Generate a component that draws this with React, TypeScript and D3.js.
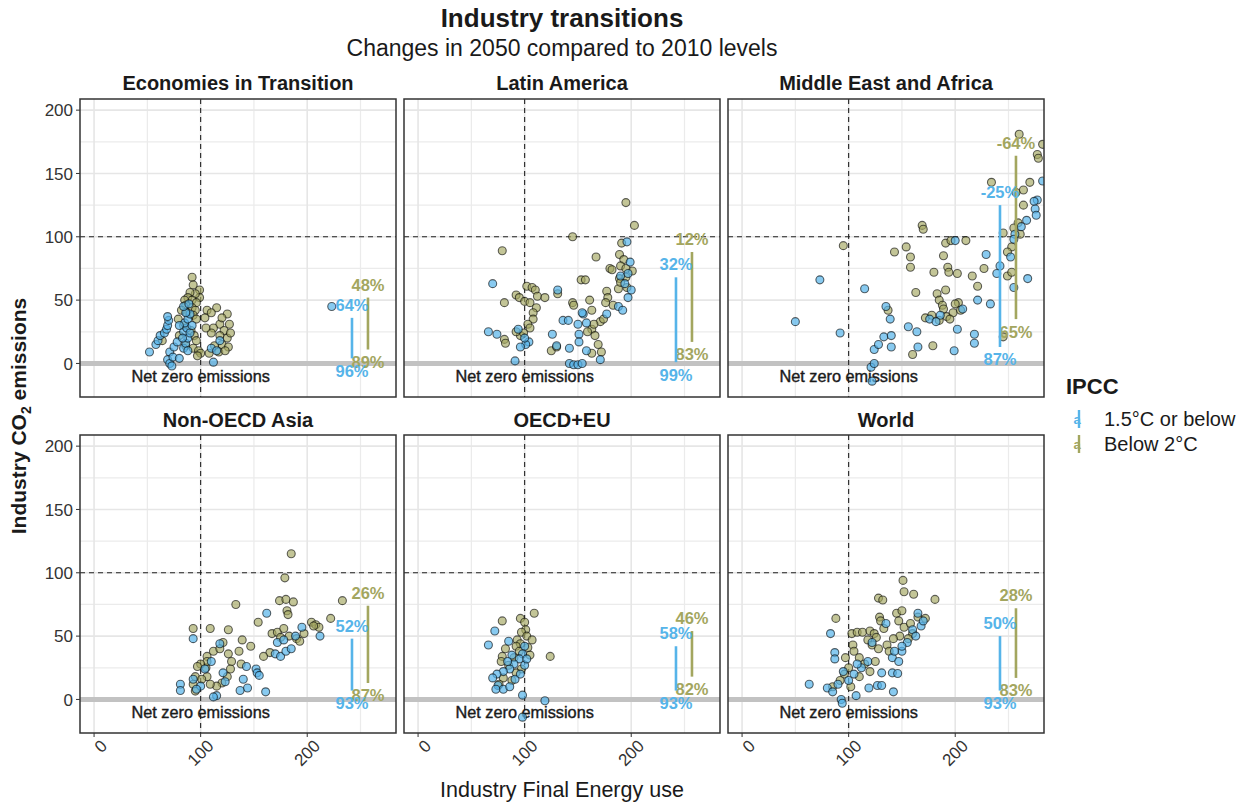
import React from 'react';
import * as d3 from 'd3';

// facet order
const regions = ['Economies in Transition', 'Latin America', 'Middle East and Africa', 'Non-OECD Asia', 'OECD+EU', 'World'];
const ipccLevels = ['1.5°C or below', 'Below 2°C'];

// emission reduction ranges (% vs 2010), per region
const worst15 = [64, 32, -25, 52, 58, 50];
const best15 = [96, 99, 87, 93, 93, 93];
const worst2 = [48, 12, -64, 26, 46, 28];
const best2 = [89, 83, 65, 87, 82, 83];

const xTicks = [0, 100, 200];
const xMinor = [50, 150, 250];
const yTicks = [0, 50, 100, 150, 200];
const yMinor = [25, 75, 125, 175];

// scenario points: [final energy, CO2] (2010 = 100)
const eitBlue = [[52, 9], [58, 15], [60, 18], [62, 22], [66, 24], [68, 27], [69, 30], [70, 34], [69, 37], [71, 9], [69, 3], [71, 0], [73, -2], [74, 5], [80, 4], [75, 13], [78, 17], [84, 12], [86, 16], [88, 20], [84, 25], [87, 28], [90, 24], [85, 32], [88, 35], [90, 39], [86, 40], [84, 45], [89, 47], [83, 20], [80, 30], [92, 30], [112, 1], [110, 12], [115, 10], [118, 18], [223, 45], [88, 10]];
const eitOlive = [[92, 68], [93, 62], [99, 58], [99, 52], [95, 55], [90, 56], [88, 52], [85, 50], [92, 50], [96, 48], [86, 46], [92, 44], [95, 42], [82, 42], [87, 40], [93, 38], [96, 35], [79, 35], [84, 30], [91, 26], [94, 22], [96, 18], [80, 22], [86, 14], [93, 12], [98, 10], [100, 8], [97, 6], [64, 18], [106, 42], [115, 44], [125, 39], [104, 36], [118, 31], [127, 31], [110, 40], [120, 36], [112, 28], [122, 26], [118, 22], [110, 24], [125, 20], [120, 15], [113, 14], [126, 13], [117, 9], [108, 8], [123, 10], [128, 24], [105, 28]];

const lamBlue = [[196, 96], [199, 80], [190, 69], [197, 71], [194, 63], [200, 58], [197, 52], [188, 45], [192, 42], [155, 39], [154, 40], [131, 58], [158, 32], [150, 31], [151, 23], [151, 17], [158, 10], [171, 3], [142, 0], [146, -1], [150, -1], [154, 0], [177, 39], [136, 34], [141, 34], [126, 23], [142, 12], [130, 14], [91, 2], [66, 25], [74, 23], [70, 63], [94, 27], [104, 17], [101, 15], [100, 20], [96, 13]];
const lamOlive = [[195, 127], [203, 109], [145, 100], [79, 89], [191, 95], [167, 84], [189, 86], [193, 82], [190, 77], [201, 73], [195, 75], [180, 75], [182, 74], [153, 66], [157, 66], [189, 67], [195, 68], [196, 60], [188, 59], [190, 64], [177, 57], [178, 52], [176, 48], [161, 50], [163, 42], [183, 46], [131, 55], [145, 48], [146, 46], [102, 61], [107, 60], [110, 58], [92, 54], [95, 52], [100, 49], [105, 48], [112, 53], [119, 52], [111, 44], [108, 40], [108, 35], [103, 31], [105, 28], [81, 48], [81, 19], [82, 16], [96, 22], [99, 24], [92, 25], [125, 10], [130, 13], [163, 27], [159, 25], [163, 8], [169, 15], [172, 9], [171, 33], [174, 35], [166, 22], [165, 31]];

const meaBlue = [[50, 33], [73, 66], [92, 24], [115, 59], [135, 45], [139, 35], [124, 11], [128, 15], [133, 21], [140, 13], [140, 22], [121, -3], [124, 0], [122, -14], [156, 29], [164, 25], [165, 13], [199, 10], [202, 27], [218, 23], [218, 16], [207, 43], [233, 47], [221, 50], [229, 86], [200, 97], [242, 77], [239, 71], [252, 84], [255, 60], [268, 67], [262, 108], [267, 113], [277, 129], [274, 128], [275, 122], [276, 117], [282, 144], [256, 102], [255, 98], [176, 35], [186, 38], [182, 33]];
const meaOlive = [[95, 93], [137, 42], [143, 88], [154, 92], [158, 84], [158, 76], [169, 109], [170, 106], [163, 56], [160, 7], [179, 14], [180, 72], [189, 85], [191, 95], [196, 97], [210, 97], [193, 76], [194, 72], [202, 71], [216, 69], [227, 75], [221, 61], [183, 55], [191, 58], [185, 50], [188, 46], [189, 43], [172, 36], [178, 38], [185, 34], [192, 37], [198, 40], [195, 35], [205, 42], [203, 48], [260, 181], [282, 173], [277, 165], [278, 162], [234, 143], [270, 143], [264, 137], [257, 135], [264, 125], [259, 111], [255, 107], [261, 102], [245, 103], [253, 92], [249, 88], [249, 69], [253, 72], [245, 21], [200, 47]];

const sasBlue = [[93, 48], [118, 44], [121, 21], [104, 24], [100, 10.5], [96, 8], [81, 12], [81, 7], [115, 3], [112, 2], [162, 68], [195, 57], [212, 50], [152, 24], [153, 21], [155, 19], [143, 26], [140, 16], [144, 9], [137, 7], [161, 6], [170, 36], [175, 34], [180, 38], [185, 40], [172, 45], [178, 47], [189, 50], [110, 30], [93, 16], [123, 14]];
const sasOlive = [[185, 115], [179, 96], [174, 78], [180, 79], [187, 77], [181, 70], [182, 67], [233, 78], [222, 64], [204, 61], [208, 59], [211, 57], [206, 58], [154, 61], [133, 75], [167, 52], [172, 53], [178, 56], [175, 49], [183, 50], [190, 48], [197, 52], [193, 46], [147, 42], [139, 47], [126, 55], [109, 56], [93, 56], [121, 45], [136, 38], [138, 28], [106, 34], [112, 38], [118, 40], [126, 36], [129, 30], [128, 24], [125, 18], [120, 13], [115, 10.5], [109, 12], [106, 18], [105, 25], [106, 30], [100, 28], [97, 26], [95, 18], [101, 16], [93, 12], [95, 6.6], [165, 37], [159, 34]];

const oecdBlue = [[72, 54], [85, 46], [66, 43], [100, 42], [98, 36], [95, 32], [90, 28], [86, 24], [80, 22], [74, 20], [70, 17], [75, 11], [80, 8], [86, 10], [91, 16], [96, 20], [100, 27], [102, 32], [98, 3.4], [119, -1], [98, -14], [73, 8], [88, 35], [84, 30]];
const oecdOlive = [[109, 68], [79, 62], [96, 64], [100, 61], [101, 55], [97, 53], [102, 50], [107, 47], [93, 47], [96, 44], [92, 42], [124, 34], [82, 40], [79, 34], [78, 30], [105, 35], [95, 38], [90, 33], [85, 27], [80, 17], [76, 12], [97, 24], [92, 21], [88, 15], [103, 41]];

const wldBlue = [[83, 52], [135, 60], [87, 37], [87, 32], [63, 12], [80, 9], [85, 6], [93, 0], [94, -3], [107, 3], [119, 9], [127, 11], [131, 11], [141, 21], [146, 20.5], [131, 21], [142, 6], [141, 33], [147, 30], [150, 38], [143, 38], [160, 55], [163, 50], [168, 58], [155, 45], [150, 42], [122, 45], [105, 20], [100, 15], [112, 25], [95, 22], [90, 12], [108, 28], [118, 30], [170, 62], [165, 68]];
const wldOlive = [[151, 94], [152, 85], [161, 83], [181, 79], [128, 80], [132, 78.5], [88, 64], [129, 65], [130, 62], [133, 56], [103, 52], [108, 53], [113, 53], [120, 54], [124, 52], [126, 49], [118, 47], [122, 43], [128, 40], [136, 43], [145, 68], [150, 70], [147, 62], [152, 57], [158, 60], [165, 65], [172, 64], [160, 52], [156, 48], [148, 50], [142, 48], [138, 38], [97, 33], [104, 43], [105, 38], [110, 33], [115, 28], [100, 25], [96, 20], [92, 15], [110, 18], [120, 22], [125, 30], [85, 10], [102, 10]];

const blueSets = [eitBlue, lamBlue, meaBlue, sasBlue, oecdBlue, wldBlue];
const oliveSets = [eitOlive, lamOlive, meaOlive, sasOlive, oecdOlive, wldOlive];

const BLUE = '#56B4E9';
const OLIVE = '#A3A65F';
const FONT = '"Liberation Sans", Arial, Helvetica, sans-serif';

const App = () => {
  const pw = 316;
  const ph = 298;
  const colX = [80, 404, 728];
  const rowY = [99, 435];

  const x = d3.scaleLinear().domain([-13.2, 283.3]).range([0, pw]);
  const y = d3.scaleLinear().domain([-26.5, 208.8]).range([ph, 0]);

  const xBlue = 242;
  const xOlive = 257;

  const panel = (i: number) => {
    const c = i % 3;
    const r = Math.floor(i / 3);
    const ranges = [
      { key: 'olive', xv: xOlive, hi: 100 - worst2[i], lo: 100 - best2[i], color: OLIVE, tHi: worst2[i], tLo: best2[i] },
      { key: 'blue', xv: xBlue, hi: 100 - worst15[i], lo: 100 - best15[i], color: BLUE, tHi: worst15[i], tLo: best15[i] },
    ];
    return (
      <g key={i} transform={`translate(${colX[c]},${rowY[r]})`}>
        <text x={pw / 2} y={r === 0 ? -9 : -8} textAnchor="middle" fontFamily={FONT} fontWeight="bold" fontSize={20} fill="#1a1a1a">{regions[i]}</text>
        <clipPath id={`clip${i}`}><rect x={0} y={0} width={pw} height={ph} /></clipPath>
        <g clipPath={`url(#clip${i})`}>
          <rect x={0} y={0} width={pw} height={ph} fill="#fff" />
          {xMinor.map(v => <line key={'xm' + v} x1={x(v)} x2={x(v)} y1={0} y2={ph} stroke="#ebebeb" strokeWidth={1.2} />)}
          {yMinor.map(v => <line key={'ym' + v} x1={0} x2={pw} y1={y(v)} y2={y(v)} stroke="#ebebeb" strokeWidth={1.2} />)}
          {xTicks.map(v => <line key={'xg' + v} x1={x(v)} x2={x(v)} y1={0} y2={ph} stroke="#e6e6e6" strokeWidth={1.6} />)}
          {yTicks.map(v => <line key={'yg' + v} x1={0} x2={pw} y1={y(v)} y2={y(v)} stroke="#e6e6e6" strokeWidth={1.6} />)}
          <line x1={0} x2={pw} y1={y(0)} y2={y(0)} stroke="#c2c2c2" strokeWidth={5} />
          <line x1={x(100)} x2={x(100)} y1={0} y2={ph} stroke="#222" strokeWidth={1.1} strokeDasharray="5,4" />
          <line x1={0} x2={pw} y1={y(100)} y2={y(100)} stroke="#222" strokeWidth={1.1} strokeDasharray="5,4" />
          <text x={x(100)} y={y(-10)} dy="0.35em" textAnchor="middle" fontFamily={FONT} fontSize={16.3} fill="#1a1a1a" stroke="#1a1a1a" strokeWidth={0.4}>Net zero emissions</text>
          {oliveSets[i].map((d, k) => (
            <circle key={'o' + k} cx={x(d[0])} cy={y(d[1])} r={4} fill={OLIVE} fillOpacity={0.65} stroke="#000" strokeOpacity={0.6} strokeWidth={1.1} />
          ))}
          {blueSets[i].map((d, k) => (
            <circle key={'b' + k} cx={x(d[0])} cy={y(d[1])} r={4} fill={BLUE} fillOpacity={0.7} stroke="#000" strokeOpacity={0.6} strokeWidth={1.1} />
          ))}
          {ranges.map(rg => (
            <g key={rg.key}>
              <line x1={x(rg.xv)} x2={x(rg.xv)} y1={y(rg.hi)} y2={y(rg.lo)} stroke={rg.color} strokeWidth={2.6} />
              <text x={x(rg.xv)} y={y(rg.hi + 10)} dy="0.35em" textAnchor="middle" fontFamily={FONT} fontWeight="bold" fontSize={16.5} fill={rg.color}>{`${rg.tHi}%`}</text>
              <text x={x(rg.xv)} y={y(rg.lo - 10)} dy="0.35em" textAnchor="middle" fontFamily={FONT} fontWeight="bold" fontSize={16.5} fill={rg.color}>{`${rg.tLo}%`}</text>
            </g>
          ))}
        </g>
        <rect x={0} y={0} width={pw} height={ph} fill="none" stroke="#333" strokeWidth={1.5} />
        {c === 0 && yTicks.map(v => (
          <g key={'yt' + v}>
            <line x1={-4} x2={0} y1={y(v)} y2={y(v)} stroke="#333" strokeWidth={1} />
            <text x={-7} y={y(v)} dy="0.36em" textAnchor="end" fontFamily={FONT} fontSize={17} fill="#333">{v}</text>
          </g>
        ))}
        {r === 1 && xTicks.map(v => (
          <g key={'xt' + v}>
            <line x1={x(v)} x2={x(v)} y1={ph} y2={ph + 4} stroke="#333" strokeWidth={1} />
            <text transform={`translate(${x(v) + 5},${ph + 5}) rotate(-45)`} dy="0.75em" textAnchor="end" fontFamily={FONT} fontSize={17} fill="#333">{v}</text>
          </g>
        ))}
      </g>
    );
  };

  return (
    <svg width={1240} height={803} style={{ position: 'absolute', left: 0, top: 0, background: '#fff' }}>
      <rect x={0} y={0} width={1240} height={803} fill="#fff" />
      <text x={562} y={27} textAnchor="middle" fontFamily={FONT} fontWeight="bold" fontSize={26} fill="#1a1a1a">Industry transitions</text>
      <text x={562} y={56} textAnchor="middle" fontFamily={FONT} fontSize={23} fill="#1a1a1a">Changes in 2050 compared to 2010 levels</text>
      {regions.map((_, i) => panel(i))}
      <text x={562} y={797} textAnchor="middle" fontFamily={FONT} fontSize={21.5} fill="#1a1a1a">Industry Final Energy use</text>
      <text transform="translate(26,416) rotate(-90)" textAnchor="middle" fontFamily={FONT} fontWeight="bold" fontSize={21} fill="#1a1a1a">
        Industry CO<tspan dy={5} fontSize={14}>2</tspan><tspan dy={-5}> emissions</tspan>
      </text>
      <text x={1066} y={394} fontFamily={FONT} fontWeight="bold" fontSize={22} fill="#1a1a1a">IPCC</text>
      {ipccLevels.map((lab, k) => {
        const cy = 419 + k * 25;
        const col = k === 0 ? BLUE : OLIVE;
        return (
          <g key={lab}>
            <line x1={1079} x2={1079} y1={cy - 9} y2={cy + 9} stroke={col} strokeWidth={2.4} />
            <text x={1077} y={cy + 5} textAnchor="middle" fontFamily={FONT} fontWeight="bold" fontSize={13} fill={col}>a</text>
            <text x={1104} y={cy} dy="0.35em" fontFamily={FONT} fontSize={20} fill="#1a1a1a">{lab}</text>
          </g>
        );
      })}
    </svg>
  );
};

export default App;
